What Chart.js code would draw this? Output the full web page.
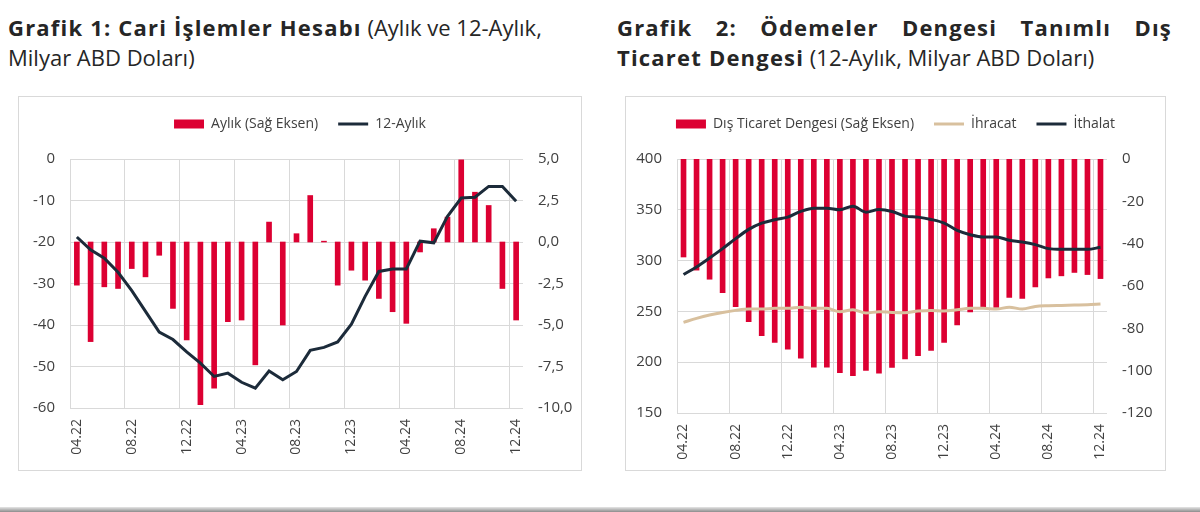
<!DOCTYPE html>
<html>
<head>
<meta charset="utf-8">
<script src="https://cdn.jsdelivr.net/npm/chart.js@4"></script>
<style>
  body { margin: 0; width: 1200px; height: 512px; background: #fff; position: relative; overflow: hidden; font-family: "Open Sans", sans-serif; color: #262626; }
  .title { position: absolute; font-size: 22px; line-height: 30px; white-space: nowrap; }
  .title b { font-weight: 700; letter-spacing: 1.2px; }
  .box { position: absolute; border: 1px solid #d9d9d9; }
  .box canvas { position: absolute; left: 0; top: 0; }
  #strip { position: absolute; left: 0; top: 507px; width: 1200px; height: 5px; background: linear-gradient(#e6e6e6, #8c8c8c); }
</style>
</head>
<body>

<div class="title" style="left:8px; top:12px;">
  <b>Grafik 1: Cari İşlemler Hesabı</b> (Aylık ve 12-Aylık,<br>Milyar ABD Doları)
</div>
<div class="title" style="left:617px; top:12px; width:555px; white-space:normal; text-align:justify; text-align-last:justify;">
  <b>Grafik 2: Ödemeler Dengesi Tanımlı Dış</b>
</div>
<div class="title" style="left:617px; top:42px;">
  <b>Ticaret Dengesi</b> (12-Aylık, Milyar ABD Doları)
</div>

<div class="box" style="left:18px; top:96px; width:562px; height:373px;">
  <canvas id="cariChart" width="562" height="373"></canvas>
</div>
<div class="box" style="left:625px; top:96px; width:539px; height:373px;">
  <canvas id="ticaretChart" width="539" height="373"></canvas>
</div>
<div id="strip"></div>

<script>
const months = ['04.22', '05.22', '06.22', '07.22', '08.22', '09.22', '10.22', '11.22', '12.22',
    '01.23', '02.23', '03.23', '04.23', '05.23', '06.23', '07.23', '08.23', '09.23', '10.23', '11.23', '12.23',
    '01.24', '02.24', '03.24', '04.24', '05.24', '06.24', '07.24', '08.24', '09.24', '10.24', '11.24', '12.24'];

// Grafik 1 - milyar ABD doları
const aylik = [-2.6, -6.0, -2.7, -2.8, -1.6, -2.1, -0.8, -4.0, -5.9, -9.8, -8.8, -4.8, -4.7, -7.4, 1.2, -5.0,
    0.5, 2.8, 0.05, -2.6, -1.7, -2.3, -3.4, -4.2, -4.9, -0.6, 0.8, 1.5, 4.95, 3.0, 2.2, -2.8, -4.7];
const onikiAylik = [-18.8, -21.9, -23.9, -27.3, -31.7, -36.7, -41.7, -43.5, -46.5, -49.2, -52.4, -51.6, -53.8,
    -55.2, -51.1, -53.2, -51.2, -46.1, -45.4, -44.1, -39.8, -33.1, -27.1, -26.5, -26.5, -19.8, -20.2, -13.8,
    -9.4, -9.2, -6.6, -6.6, -10.2];

// Grafik 2 - 12 aylık, milyar ABD doları
const disTicaret = [-46.3, -52.5, -56.8, -63.1, -69.8, -76.9, -83.5, -86.7, -89.9, -94.1, -98.4, -98.4, -100.9,
    -102.4, -99.9, -101.2, -98.5, -94.4, -92.9, -90.4, -86.6, -78.4, -72.2, -70.1, -70.1, -65.4, -65.9, -60.4,
    -56.2, -55.2, -53.6, -54.6, -56.5];
const ihracat = [239.2, 243.1, 246.4, 249.0, 251.0, 252.3, 252.3, 253.0, 253.0, 254.2, 253.0, 253.0, 249.7,
    251.6, 248.4, 249.7, 249.0, 248.7, 250.3, 251.0, 250.3, 251.6, 253.0, 253.0, 252.3, 254.2, 252.3, 254.9,
    255.6, 255.9, 256.2, 256.5, 257.2];
const ithalat = [286.3, 293.8, 302.6, 311.8, 321.6, 330.7, 336.9, 340.2, 342.8, 348.4, 351.6, 351.6, 350.0,
    353.6, 347.7, 350.3, 348.4, 343.8, 342.8, 340.5, 336.9, 329.7, 325.5, 323.2, 323.2, 320.0, 318.3, 315.7,
    311.8, 311.1, 311.1, 311.1, 313.1];

const red = '#dc0032';
const navy = '#1c2b3a';
const tan = '#d8c09e';
const gridColor = '#d9d9d9';
const textColor = '#404040';

Chart.defaults.font.family = '"Open Sans", sans-serif';
Chart.defaults.color = textColor;
Chart.defaults.animation = false;

// legend'in altına boşluk ekle (çizim alanı 61px'den başlasın)
const legendGap = {
    id: 'legendGap',
    beforeInit(chart) {
        const fit = chart.legend.fit;
        chart.legend.fit = function () {
            fit.call(this);
            this.height += 18;
        };
    }
};

function xAxis(height) {
    return {
        offset: true,
        grid: {
            offset: true,
            drawTicks: false,
            color: (c) => (c.index !== undefined && c.index % 4 === 0) ? gridColor : 'transparent'
        },
        border: { display: false },
        ticks: {
            autoSkip: false,
            maxRotation: 90,
            minRotation: 90,
            padding: 11,
            font: { size: 14 },
            callback: (v, i) => i % 4 === 0 ? months[i] : ''
        },
        afterFit: (s) => { s.height = height; }
    };
}

function yAxis(pos, min, max, step, width, fmt, grid) {
    return {
        position: pos,
        min: min,
        max: max,
        grid: { display: grid, drawOnChartArea: grid, drawTicks: false, color: gridColor },
        border: { display: false },
        ticks: { stepSize: step, padding: 15, font: { size: 15 }, callback: fmt },
        afterFit: (s) => { s.width = width; }
    };
}

const legendOpts = {
    position: 'top',
    labels: {
        usePointStyle: true,
        pointStyleWidth: 30,
        boxHeight: 9,
        padding: 20,
        color: textColor,
        font: { size: 14 },
        sort: (a, b) => a.datasetIndex - b.datasetIndex
    }
};

// grafik 1

new Chart(document.getElementById('cariChart'), {
    type: 'bar',
    data: {
        labels: months,
        datasets: [{
            label: 'Aylık (Sağ Eksen)',
            data: aylik,
            backgroundColor: red,
            borderWidth: 0,
            barThickness: 5,
            pointStyle: 'rect',
            yAxisID: 'y1',
            order: 1
        }, {
            type: 'line',
            label: '12-Aylık',
            data: onikiAylik,
            borderColor: navy,
            backgroundColor: navy,
            borderWidth: 3,
            pointRadius: 0,
            pointStyle: 'line',
            tension: 0,
            yAxisID: 'y',
            order: 0
        }]
    },
    options: {
        responsive: false,
        layout: { padding: 0 },
        plugins: { legend: legendOpts, tooltip: { enabled: false } },
        scales: {
            x: xAxis(62),
            y: yAxis('left', -60, 0, 10, 51, (v) => v, true),
            y1: yAxis('right', -10, 5, 2.5, 58, (v) => v.toFixed(1).replace('.', ','), false)
        }
    },
    plugins: [legendGap]
});

// grafik 2

new Chart(document.getElementById('ticaretChart'), {
    type: 'bar',
    data: {
        labels: months,
        datasets: [{
            label: 'Dış Ticaret Dengesi (Sağ Eksen)',
            data: disTicaret,
            backgroundColor: red,
            borderWidth: 0,
            barThickness: 5,
            pointStyle: 'rect',
            yAxisID: 'y1',
            order: 2
        }, {
            type: 'line',
            label: 'İhracat',
            data: ihracat,
            borderColor: tan,
            backgroundColor: tan,
            borderWidth: 3,
            pointRadius: 0,
            pointStyle: 'line',
            cubicInterpolationMode: 'monotone',
            yAxisID: 'y',
            order: 1
        }, {
            type: 'line',
            label: 'İthalat',
            data: ithalat,
            borderColor: navy,
            backgroundColor: navy,
            borderWidth: 3,
            pointRadius: 0,
            pointStyle: 'line',
            cubicInterpolationMode: 'monotone',
            yAxisID: 'y',
            order: 0
        }]
    },
    options: {
        responsive: false,
        layout: { padding: 0 },
        plugins: { legend: legendOpts, tooltip: { enabled: false } },
        scales: {
            x: xAxis(57),
            y: yAxis('left', 150, 400, 50, 51, (v) => v, true),
            y1: yAxis('right', -120, 0, 20, 58, (v) => v, false)
        }
    },
    plugins: [legendGap]
});
</script>
</body>
</html>
